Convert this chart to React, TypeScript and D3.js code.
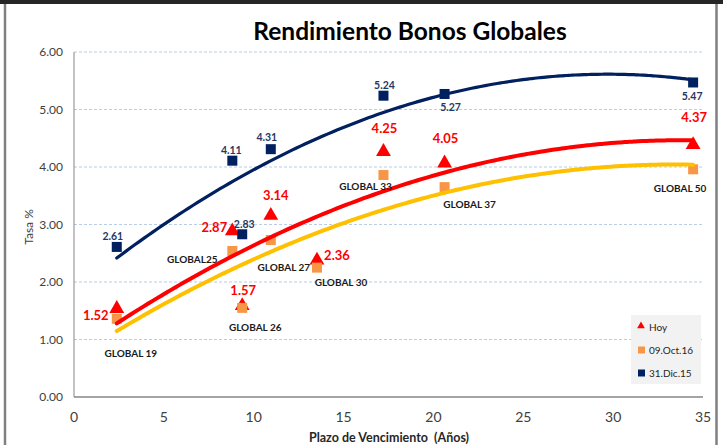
import React, { useEffect, useRef } from 'react'
import * as d3 from 'd3'

// bonos y plazo de vencimiento (años)
const bonds = ['GLOBAL 19', 'GLOBAL25', 'GLOBAL 26', 'GLOBAL 27', 'GLOBAL 30', 'GLOBAL 33', 'GLOBAL 37', 'GLOBAL 50']
const plazo = [2.38, 8.81, 9.36, 10.95, 13.52, 17.22, 20.62, 34.45]

// tasas %
const hoy = [1.52, 2.87, 1.57, 3.14, 2.36, 4.25, 4.05, 4.37]
const oct16 = [1.36, 2.54, 1.55, 2.73, 2.25, 3.86, 3.65, 3.96]
const dic15 = [2.61, 4.11, 2.83, 4.31, null, 5.24, 5.27, 5.47]

const yTicks = [0, 1, 2, 3, 4, 5, 6]
const xTicks = [0, 5, 10, 15, 20, 25, 30, 35]

// where the labels sit around each marker (px, center of text)
const hoyLabelOff = [[-21, 6], [-18, -5], [1, -16], [5, -21], [20, -6], [1, -24], [1, -26], [1, -28]]
const dicLabelOff = [[-4, -11], [-1, -10], [2, -10], [-4, -12], null, [1, -10], [6, 13], [-1, 14]]
const nameLabelOff = [[14, 35], [-40, 9], [13, 20], [13, 27], [24, 15], [-18, 11], [25, 17], [-13, 19]]

const RED = '#FF0000'
const ORANGE = '#F79646'
const NAVY = '#002060'
const YELLOW = '#FFC000'
const FONT = 'Lato, "Open Sans", sans-serif'

// least squares, 2nd order (like the excel trendline)
function polyFit(xs: number[], ys: number[]) {
  let s = [0, 0, 0, 0, 0], t = [0, 0, 0]
  xs.forEach((x, i) => {
    for (let k = 0; k < 5; k++) s[k] += Math.pow(x, k)
    for (let k = 0; k < 3; k++) t[k] += ys[i] * Math.pow(x, k)
  })
  const m = [[s[0], s[1], s[2], t[0]], [s[1], s[2], s[3], t[1]], [s[2], s[3], s[4], t[2]]]
  for (let c = 0; c < 3; c++) {
    for (let r = c + 1; r < 3; r++) {
      const f = m[r][c] / m[c][c]
      for (let k = c; k < 4; k++) m[r][k] -= f * m[c][k]
    }
  }
  const coef = [0, 0, 0]
  for (let r = 2; r >= 0; r--) {
    let v = m[r][3]
    for (let k = r + 1; k < 3; k++) v -= m[r][k] * coef[k]
    coef[r] = v / m[r][r]
  }
  return (x: number) => coef[0] + coef[1] * x + coef[2] * x * x
}

export default function App() {
  const ref = useRef<HTMLDivElement>(null)

  useEffect(() => {
    const W = 723, H = 445
    const margin = { top: 52, left: 74, right: 20, bottom: 48 }
    const innerW = 703 - margin.left
    const innerH = 397 - margin.top

    d3.select(ref.current).selectAll('*').remove()
    const svg = d3.select(ref.current).append('svg')
      .attr('width', W).attr('height', H)
      .style('position', 'absolute').style('left', 0).style('top', 0)
      .style('font-family', FONT)

    svg.append('rect').attr('width', W).attr('height', H).attr('fill', '#fff')
    // frame
    svg.append('rect').attr('x', 0).attr('y', 0).attr('width', W).attr('height', 4).attr('fill', '#262626')
    svg.append('line').attr('x1', 5).attr('x2', 5).attr('y1', 4).attr('y2', H).attr('stroke', '#808080').attr('stroke-width', 2.5)
    svg.append('line').attr('x1', 716.5).attr('x2', 716.5).attr('y1', 4).attr('y2', H).attr('stroke', '#808080').attr('stroke-width', 2.5)

    const x = d3.scaleLinear().domain([0, 35]).range([0, innerW])
    const y = d3.scaleLinear().domain([0, 6]).range([innerH, 0])

    const g = svg.append('g').attr('transform', `translate(${margin.left},${margin.top})`)

    // gridlines
    g.selectAll('.grid').data(yTicks.filter(d => d > 0)).enter().append('line')
      .attr('x1', 0).attr('x2', innerW)
      .attr('y1', d => y(d)).attr('y2', d => y(d))
      .attr('stroke', '#B9CDE5').attr('stroke-width', 1).attr('stroke-dasharray', '3,2')

    // axes lines
    g.append('line').attr('x1', 0).attr('x2', 0).attr('y1', 0).attr('y2', innerH).attr('stroke', '#868686').attr('stroke-width', 1)
    g.append('line').attr('x1', 0).attr('x2', innerW).attr('y1', innerH).attr('y2', innerH).attr('stroke', '#868686').attr('stroke-width', 1.5)

    g.selectAll('.ytick').data(yTicks).enter().append('text')
      .attr('x', -11).attr('y', d => y(d)).attr('dy', '0.35em')
      .attr('text-anchor', 'end').attr('font-size', 12).attr('fill', '#404040')
      .text(d => d.toFixed(2))

    g.selectAll('.xtick').data(xTicks).enter().append('text')
      .attr('x', d => x(d)).attr('y', innerH + 25)
      .attr('text-anchor', 'middle').attr('font-size', 14).attr('fill', '#404040')
      .text(d => d)

    svg.append('text').attr('x', 389).attr('y', 442).attr('text-anchor', 'middle')
      .style('white-space', 'pre')
      .attr('font-size', 12.5).attr('font-weight', 'bold').attr('fill', '#262626')
      .text('Plazo de Vencimiento  (Años)')

    svg.append('text').attr('transform', 'translate(33,227) rotate(-90)').attr('text-anchor', 'middle')
      .attr('font-size', 12).attr('fill', '#404040').text('Tasa %')

    svg.append('text').attr('x', 410).attr('y', 40).attr('text-anchor', 'middle')
      .attr('font-size', 24.5).attr('font-weight', 'bold').attr('fill', '#000')
      .text('Rendimiento Bonos Globales')

    const hoyPts = plazo.map((p, i) => ({ x: p, y: hoy[i], i }))
    const octPts = plazo.map((p, i) => ({ x: p, y: oct16[i], i }))
    const dicPts = plazo.map((p, i) => ({ x: p, y: dic15[i], i })).filter(d => d.y != null) as { x: number, y: number, i: number }[]

    const tri = d3.symbol().type(d3.symbolTriangle).size(95)

    // markers
    g.selectAll('.hoy').data(hoyPts).enter().append('path')
      .attr('d', tri).attr('transform', d => `translate(${x(d.x)},${y(d.y) - 1})`).attr('fill', RED)
    g.selectAll('.oct').data(octPts).enter().append('rect')
      .attr('x', d => x(d.x) - 5).attr('y', d => y(d.y) - 5).attr('width', 10).attr('height', 10).attr('fill', ORANGE)
    g.selectAll('.dic').data(dicPts).enter().append('rect')
      .attr('x', d => x(d.x) - 5).attr('y', d => y(d.y) - 5).attr('width', 10).attr('height', 10).attr('fill', NAVY)

    // trendlines
    const trend = (pts: { x: number, y: number }[], color: string, w: number) => {
      const f = polyFit(pts.map(d => d.x), pts.map(d => d.y))
      const x0 = d3.min(pts, d => d.x)!, x1 = d3.max(pts, d => d.x)!
      const xs = d3.range(x0, x1, 0.25).concat([x1])
      g.append('path').datum(xs)
        .attr('d', d3.line<number>().x(d => x(d)).y(d => y(f(d))).curve(d3.curveMonotoneX))
        .attr('fill', 'none').attr('stroke', color).attr('stroke-width', w).attr('stroke-linecap', 'round')
    }
    trend(octPts, YELLOW, 4)
    trend(hoyPts, RED, 4)
    trend(dicPts, NAVY, 3.2)

    // labels
    g.selectAll('.hoyLbl').data(hoyPts).enter().append('text')
      .attr('x', d => x(d.x) + hoyLabelOff[d.i][0]).attr('y', d => y(d.y) + hoyLabelOff[d.i][1])
      .attr('dy', '0.35em').attr('text-anchor', 'middle')
      .attr('font-size', 13).attr('font-weight', 'bold').attr('fill', RED)
      .text(d => d.y.toFixed(2))

    g.selectAll('.dicLbl').data(dicPts).enter().append('text')
      .attr('x', d => x(d.x) + dicLabelOff[d.i]![0]).attr('y', d => y(d.y) + dicLabelOff[d.i]![1])
      .attr('dy', '0.35em').attr('text-anchor', 'middle')
      .attr('font-size', 10.5).attr('font-weight', 'bold').attr('fill', '#1F3864')
      .text(d => d.y.toFixed(2))

    g.selectAll('.nameLbl').data(octPts).enter().append('text')
      .attr('x', d => x(d.x) + nameLabelOff[d.i][0]).attr('y', d => y(d.y) + nameLabelOff[d.i][1])
      .attr('dy', '0.35em').attr('text-anchor', 'middle')
      .attr('font-size', 10).attr('font-weight', 'bold').attr('fill', '#1a1a1a')
      .text(d => bonds[d.i])

    // legend
    const lg = svg.append('g').attr('transform', 'translate(631,315)')
    lg.append('rect').attr('width', 70).attr('height', 69).attr('fill', '#F2F2F2')
    const items = [
      { name: 'Hoy', color: RED, shape: 'tri' },
      { name: '09.Oct.16', color: ORANGE, shape: 'sq' },
      { name: '31.Dic.15', color: NAVY, shape: 'sq' },
    ]
    items.forEach((it, i) => {
      const cy = 12 + i * 23
      if (it.shape === 'tri') {
        lg.append('path').attr('d', d3.symbol().type(d3.symbolTriangle).size(26)()!)
          .attr('transform', `translate(10,${cy - 1})`).attr('fill', it.color)
      } else {
        lg.append('rect').attr('x', 7).attr('y', cy - 3.5).attr('width', 7).attr('height', 7).attr('fill', it.color)
      }
      lg.append('text').attr('x', 18).attr('y', cy).attr('dy', '0.35em')
        .attr('font-size', 10).attr('fill', '#262626').text(it.name)
    })
  }, [])

  return <div ref={ref}></div>
}
